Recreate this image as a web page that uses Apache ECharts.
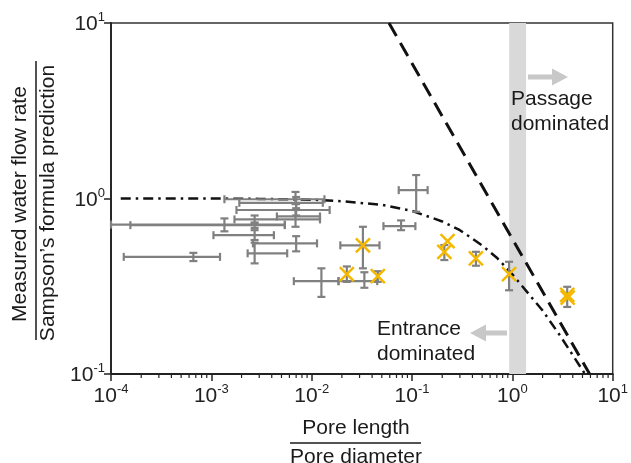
<!DOCTYPE html>
<html><head><meta charset="utf-8">
<script src="https://cdn.jsdelivr.net/npm/echarts@6/dist/echarts.min.js"></script>
<style>html,body{margin:0;padding:0;background:#fff}#c{width:631px;height:463px}</style>
</head><body><div id="c"></div>
<script>
// ---------- data ----------
const xTickExponents = [-4, -3, -2, -1, 0, 1];
const yTickExponents = [-1, 0, 1];
// [x, y, xLow, xHigh, yLow, yHigh]
const grayPoints = [
  [0.000662, 0.465, 0.000134, 0.00122, 0.44, 0.49],
  [0.00135, 0.71, 0.0001, 0.0054, 0.65, 0.77],
  [0.0027, 0.705, 0.000156, 0.0054, 0.68, 0.73],
  [0.0027, 0.76, 0.0017, 0.0121, 0.72, 0.80],
  [0.0027, 0.618, 0.00105, 0.0042, 0.58, 0.66],
  [0.0027, 0.487, 0.0023, 0.0057, 0.427, 0.56],
  [0.0069, 0.99, 0.00135, 0.0134, 0.93, 1.09],
  [0.0070, 0.945, 0.0019, 0.0129, 0.88, 1.02],
  [0.0070, 0.86, 0.00178, 0.0151, 0.80, 0.93],
  [0.0069, 0.79, 0.0045, 0.0121, 0.69, 0.86],
  [0.0070, 0.555, 0.0026, 0.0113, 0.50, 0.61],
  [0.0125, 0.338, 0.00664, 0.0185, 0.275, 0.40],
  [0.0335, 0.338, 0.0185, 0.045, 0.31, 0.38],
  [0.0324, 0.541, 0.0193, 0.0474, 0.40, 0.69],
  [0.0224, 0.371, null, null, 0.335, 0.41],
  [0.0456, 0.361, null, null, 0.335, 0.385],
  [0.0778, 0.696, 0.0519, 0.108, 0.66, 0.75],
  [0.11, 1.116, 0.0737, 0.143, 0.84, 1.36],
  [0.21, 0.494, null, null, 0.446, 0.543],
  [0.433, 0.456, null, null, 0.414, 0.497],
  [0.927, 0.371, null, null, 0.30, 0.436],
  [3.52, 0.282, null, null, 0.241, 0.314]
];
const yellowPoints = [
  [0.0324, 0.541], [0.0224, 0.371], [0.0456, 0.361], [0.21, 0.497], [0.226, 0.572],
  [0.433, 0.456], [0.927, 0.371], [3.52, 0.282], [3.56, 0.272]
];
const entranceCurve = [
  [0.000125, 1.0], [0.001, 1.0], [0.003, 0.995], [0.01, 0.985], [0.02, 0.965],
  [0.05, 0.92], [0.1, 0.85], [0.2, 0.74], [0.3, 0.66], [0.5, 0.54], [0.7, 0.46],
  [1.0, 0.37], [1.5, 0.28], [2.0, 0.23], [3.0, 0.165], [4.0, 0.128], [5.3, 0.1]
];
const sampsonLine = [[0.0589, 10], [5.89, 0.1]];
const bandRange = [0.93, 1.37];
const xMinorTicks = [];
for (let e = -4; e < 1; e++) for (let k = 2; k <= 9; k++) xMinorTicks.push(k * Math.pow(10, e));
const yMinorTicks = [];
for (let e = -1; e < 1; e++) for (let k = 2; k <= 9; k++) yMinorTicks.push(k * Math.pow(10, e));

// ---------- chart ----------
const FONT = "'Liberation Sans', Arial, sans-serif";
const chart = echarts.init(document.getElementById('c'), null, {renderer: 'canvas'});
const xMin = Math.pow(10, xTickExponents[0]), xMax = Math.pow(10, xTickExponents[xTickExponents.length - 1]);
const yMin = Math.pow(10, yTickExponents[0]), yMax = Math.pow(10, yTickExponents[yTickExponents.length - 1]);

function supLabel(v) {
  const e = Math.round(Math.log10(v));
  return '{b|10}{s|' + e + '}';
}
const richLabel = {
  b: {fontSize: 21, fontFamily: FONT, color: '#222', verticalAlign: 'bottom', lineHeight: 24},
  s: {fontSize: 13, fontFamily: FONT, color: '#222', verticalAlign: 'top', lineHeight: 14}
};

function errorBarRender(params, api) {
  const p = grayPoints[params.dataIndex];
  const c = api.coord([p[0], p[1]]);
  const st = {stroke: '#808080', lineWidth: 2.2};
  const cap = 4;
  const ch = [];
  if (p[2] != null) {
    const a = api.coord([p[2], p[1]]), b = api.coord([p[3], p[1]]);
    ch.push({type: 'line', shape: {x1: a[0], y1: c[1], x2: b[0], y2: c[1]}, style: st});
    ch.push({type: 'line', shape: {x1: a[0], y1: c[1] - cap, x2: a[0], y2: c[1] + cap}, style: st});
    ch.push({type: 'line', shape: {x1: b[0], y1: c[1] - cap, x2: b[0], y2: c[1] + cap}, style: st});
  }
  if (p[4] != null) {
    const a = api.coord([p[0], p[4]]), b = api.coord([p[0], p[5]]);
    ch.push({type: 'line', shape: {x1: c[0], y1: a[1], x2: c[0], y2: b[1]}, style: st});
    ch.push({type: 'line', shape: {x1: c[0] - cap, y1: a[1], x2: c[0] + cap, y2: a[1]}, style: st});
    ch.push({type: 'line', shape: {x1: c[0] - cap, y1: b[1], x2: c[0] + cap, y2: b[1]}, style: st});
  }
  return {type: 'group', children: ch};
}
function crossRender(params, api) {
  const c = api.coord([api.value(0), api.value(1)]);
  const r = 7;
  const st = {stroke: '#F5B800', lineWidth: 2.5};
  return {type: 'group', children: [
    {type: 'line', shape: {x1: c[0] - r, y1: c[1] - r, x2: c[0] + r, y2: c[1] + r}, style: st},
    {type: 'line', shape: {x1: c[0] - r, y1: c[1] + r, x2: c[0] + r, y2: c[1] - r}, style: st}
  ]};
}
function xMinorRender(params, api) {
  const c = api.coord([api.value(0), yMin]);
  return {type: 'line', shape: {x1: c[0], y1: c[1], x2: c[0], y2: c[1] + 4}, style: {stroke: '#222', lineWidth: 1.2}};
}
function yMinorRender(params, api) {
  const c = api.coord([xMin, api.value(0)]);
  return {type: 'line', shape: {x1: c[0], y1: c[1], x2: c[0] - 4, y2: c[1]}, style: {stroke: '#222', lineWidth: 1.2}};
}

const option = {
  animation: false,
  backgroundColor: '#fff',
  grid: {left: 111, right: 17, top: 23, bottom: 89, show: true, borderColor: '#333', borderWidth: 1.5, containLabel: false},
  xAxis: {
    type: 'log', logBase: 10, min: xMin, max: xMax, splitNumber: 5,
    axisLine: {lineStyle: {color: '#222', width: 1.8}},
    axisTick: {inside: false, length: 7, lineStyle: {color: '#222', width: 1.5}},
    splitLine: {show: false},
    axisLabel: {formatter: supLabel, rich: richLabel, margin: 9}
  },
  yAxis: {
    type: 'log', logBase: 10, min: yMin, max: yMax, splitNumber: 2,
    axisLine: {lineStyle: {color: '#222', width: 1.8}},
    axisTick: {inside: false, length: 7, lineStyle: {color: '#222', width: 1.5}},
    splitLine: {show: false},
    axisLabel: {formatter: supLabel, rich: richLabel, margin: 6}
  },
  series: [
    {
      type: 'line', data: sampsonLine, symbol: 'none', z: 3,
      lineStyle: {color: '#111', width: 3, type: [15, 8]},
      markArea: {silent: true, itemStyle: {color: '#d9d9d9'}, data: [[{xAxis: bandRange[0]}, {xAxis: bandRange[1]}]]}
    },
    {
      type: 'line', data: entranceCurve, symbol: 'none', z: 3,
      lineStyle: {color: '#111', width: 2.5, type: [10, 5, 2.5, 5]}
    },
    {type: 'custom', data: grayPoints.map(p => [p[0], p[1]]), renderItem: errorBarRender, z: 4, clip: false},
    {type: 'custom', data: yellowPoints, renderItem: crossRender, z: 5},
    {type: 'custom', data: xMinorTicks.map(v => [v, yMin]), renderItem: xMinorRender, clip: false, z: 6},
    {type: 'custom', data: yMinorTicks.map(v => [xMin, v]), renderItem: yMinorRender, clip: false, z: 6}
  ],
  graphic: [
    // y title
    {type: 'text', x: 20, y: 204, rotation: Math.PI / 2,
      style: {text: 'Measured water flow rate', font: '21px ' + FONT, fill: '#1a1a1a', align: 'center', verticalAlign: 'middle'}},
    {type: 'line', shape: {x1: 36, y1: 61, x2: 36, y2: 340}, style: {stroke: '#1a1a1a', lineWidth: 1.5}},
    {type: 'text', x: 48, y: 203, rotation: Math.PI / 2,
      style: {text: 'Sampson\u2019s formula prediction', font: '21px ' + FONT, fill: '#1a1a1a', align: 'center', verticalAlign: 'middle'}},
    // x title
    {type: 'text', x: 356, y: 428,
      style: {text: 'Pore length', font: '21px ' + FONT, fill: '#1a1a1a', align: 'center', verticalAlign: 'middle'}},
    {type: 'line', shape: {x1: 290, y1: 443, x2: 421, y2: 443}, style: {stroke: '#1a1a1a', lineWidth: 1.5}},
    {type: 'text', x: 356, y: 457,
      style: {text: 'Pore diameter', font: '21px ' + FONT, fill: '#1a1a1a', align: 'center', verticalAlign: 'middle'}},
    // annotations
    {type: 'text', x: 511, y: 112, z: 10,
      style: {text: 'Passage\ndominated', font: '21px ' + FONT, fill: '#1a1a1a', align: 'left', verticalAlign: 'middle', lineHeight: 25}},
    {type: 'polygon', z: 10, shape: {points: [[528, 74.5], [552, 74.5], [552, 68.5], [568, 77], [552, 85.5], [552, 79.5], [528, 79.5]]}, style: {fill: '#c8c8c8'}},
    {type: 'text', x: 377, y: 342, z: 10,
      style: {text: 'Entrance\ndominated', font: '21px ' + FONT, fill: '#1a1a1a', align: 'left', verticalAlign: 'middle', lineHeight: 25}},
    {type: 'polygon', z: 10, shape: {points: [[507, 330.5], [486, 330.5], [486, 324.5], [470, 333], [486, 341.5], [486, 335.5], [507, 335.5]]}, style: {fill: '#c8c8c8'}}
  ]
};
chart.setOption(option);
</script>
</body></html>
